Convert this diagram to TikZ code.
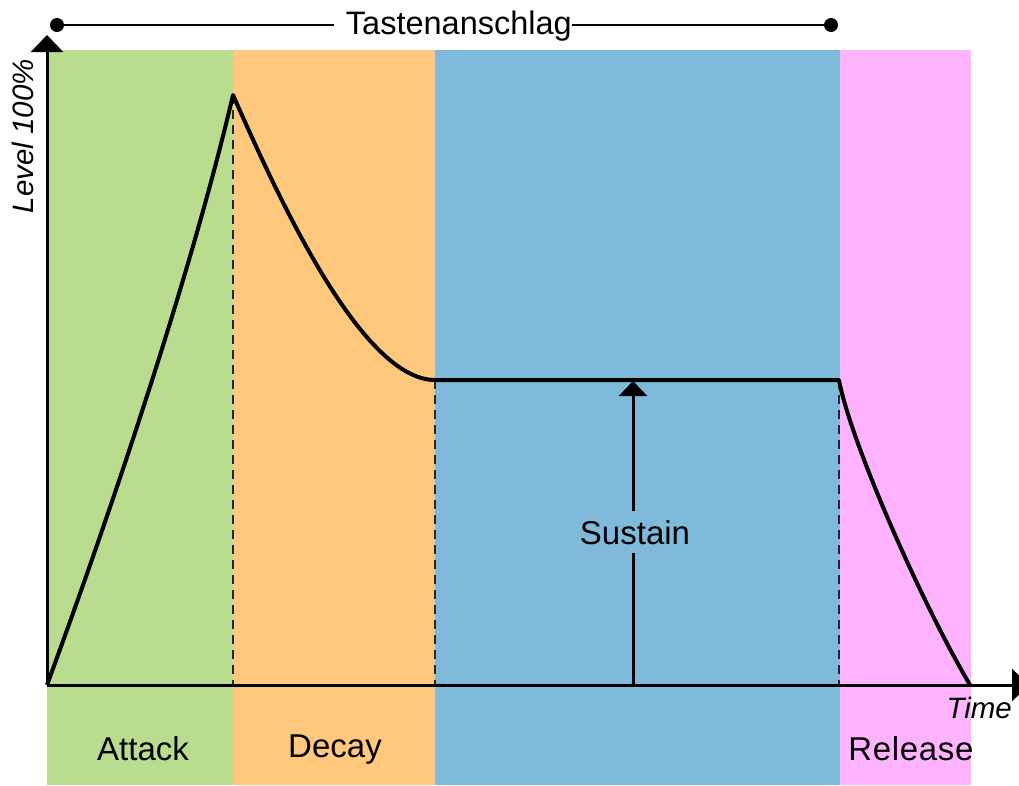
\documentclass[tikz,border=0pt]{standalone}
\usepackage{fontspec}
\setmainfont{Liberation Sans}
\usetikzlibrary{arrows.meta}
\definecolor{cA}{RGB}{185,220,143}
\definecolor{cD}{RGB}{255,200,125}
\definecolor{cS}{RGB}{128,186,218}
\definecolor{cR}{RGB}{255,179,255}
\begin{document}
\begin{tikzpicture}[x=1pt,y=-1pt,
  env/.style={line width=4pt, line join=round},
  axis/.style={line width=3pt, -{Triangle[width=32pt,length=17pt]}},
  guide/.style={line width=2.5pt, dash pattern=on 9pt off 6pt, draw=black!85},
  bracket/.style={line width=2pt},
  dot/.style={circle, fill=black, minimum size=14pt, inner sep=0pt},
  lbl/.style={font=\fontsize{33}{38}\selectfont, anchor=base, inner sep=0pt},
  ilbl/.style={font=\fontsize{29.5}{34}\selectfont\itshape, inner sep=0pt},
  sarrow/.style={line width=3pt, -{Triangle[width=28pt,length=15pt]}}]
\useasboundingbox (0,0) rectangle (1019,785);
\clip (0,0) rectangle (1019,785);
% coloured phases
\fill[cA] (47,50) rectangle (233,785);
\fill[cD] (233,50) rectangle (435,785);
\fill[cS] (435,50) rectangle (840,785);
\fill[cR] (840,50) rectangle (971,785);
% key points
\coordinate (O) at (47,685);
\coordinate (P) at (233,95);
\coordinate (S1) at (435,380);
\coordinate (S2) at (839,380);
\coordinate (E) at (970,685);
\coordinate (A1) at (233,685);
\coordinate (D1) at (435,685);
\coordinate (R1) at (839,685);
\coordinate (SB) at (633,685);
\coordinate (ST) at (633,381);
\coordinate (YT) at (47,35);
\coordinate (XT) at (1029,685);
% guides
\draw[guide] (P) -- (A1);
\draw[guide] (S1) -- (D1);
\draw[guide] (S2) -- (R1);
% axes
\draw[axis] (O) -- (YT);
\draw[axis] (O) -- (XT);
% envelope
\draw[env] (O) .. controls (115,500) and (192,270) .. (P)
  .. controls (275,190) and (360,380) .. (S1) -- (S2)
  .. controls (850,440) and (920,600) .. (E);
% sustain arrow
\draw[sarrow] (SB) -- (ST);
\node[lbl, fill=cS, inner ysep=9pt, inner xsep=2pt] (sus) at (635,544) {Sustain};
% key press bracket
\node[dot] (dL) at (57,25) {};
\node[dot] (dR) at (831,25) {};
\draw[bracket] (dL) -- (dR);
\node[lbl, font=\fontsize{32.5}{38}\selectfont, anchor=base east, fill=white] (tast) at (572,34) {\hspace*{12pt}Tastenanschlag};
% labels
\node[lbl] (att) at (143,760) {Attack};
\node[lbl] (dec) at (335,757) {Decay};
\node[lbl] (rel) at (911,760) {\addfontfeature{LetterSpace=2}Release};
\node[ilbl, anchor=base east] (time) at (1012,718) {Time};
\node[ilbl, anchor=base, rotate=90] (lev) at (33,136) {Level 100\%};
\end{tikzpicture}
\end{document}
